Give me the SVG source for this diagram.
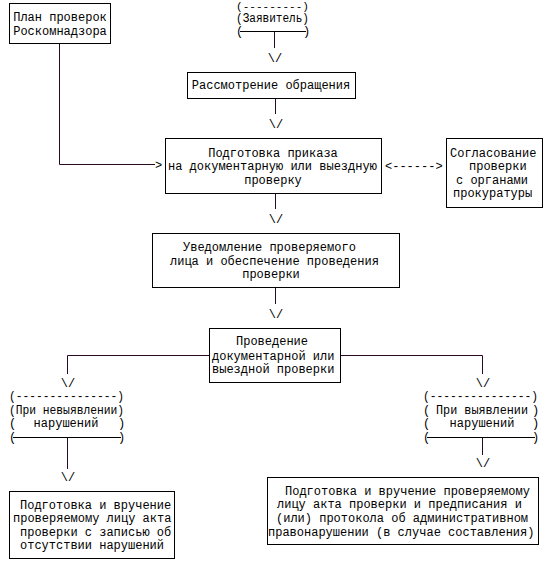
<svg xmlns="http://www.w3.org/2000/svg" width="545" height="562" viewBox="0 0 545 562">
<style>
text{font-family:"Liberation Mono","Courier New",monospace;font-size:12px;fill:#000}
.m{text-anchor:middle}
rect{fill:#fff;stroke:#000;stroke-width:1}
.c line,.c polyline{stroke:#2a0a22;stroke-width:1;fill:none}
</style>
<rect x="0" y="0" width="545" height="562" style="stroke:none"/>
<g class="c" id="connectors">
<polyline points="59.5,43 59.5,164.5 155,164.5"/>
<text x="155" y="168.5">&gt;</text>
<text x="385" y="169.5">&lt;------&gt;</text>
<line x1="274.5" y1="31" x2="274.5" y2="48"/>
<text class="m" x="275" y="62">\/</text>
<line x1="275.5" y1="98" x2="275.5" y2="114"/>
<text class="m" x="276" y="128">\/</text>
<line x1="275.5" y1="193" x2="275.5" y2="209"/>
<text class="m" x="276" y="223">\/</text>
<line x1="275.5" y1="287" x2="275.5" y2="304"/>
<text class="m" x="276" y="318">\/</text>
<polyline points="209,355.5 67.5,355.5 67.5,374"/>
<text class="m" x="68" y="387">\/</text>
<polyline points="340,355.5 482.5,355.5 482.5,374"/>
<text class="m" x="483" y="387">\/</text>
<line x1="67.5" y1="437" x2="67.5" y2="469"/>
<text class="m" x="68" y="481">\/</text>
<line x1="482.5" y1="437" x2="482.5" y2="455"/>
<text class="m" x="483" y="467">\/</text>
</g>
<g id="plan">
<rect x="9.5" y="3.5" width="101" height="40"/>
<text class="m" x="60" y="21">План проверок</text>
<text class="m" x="60" y="35">Роскомнадзора</text>
</g>
<g id="zayavitel">
<text x="236" y="9.5" style="font-size:10.5px" textLength="73" lengthAdjust="spacingAndGlyphs">(---------)</text>
<text x="236" y="22" textLength="73" lengthAdjust="spacingAndGlyphs">(Заявитель)</text>
<text x="236" y="35">(</text>
<line x1="240" y1="31.5" x2="306" y2="31.5" stroke="#000"/>
<text x="303" y="35">)</text>
</g>
<g id="rassmotrenie">
<rect x="187.5" y="72.5" width="168" height="26"/>
<text class="m" x="271" y="89">Рассмотрение обращения</text>
</g>
<g id="prikaz">
<rect x="165.5" y="138.5" width="216" height="55"/>
<text class="m" x="273" y="157">Подготовка приказа</text>
<text x="168" y="170">на документарную или выездную</text>
<text class="m" x="273" y="184">проверку</text>
</g>
<g id="soglasovanie">
<rect x="446.5" y="138.5" width="96" height="69"/>
<text x="450" y="157">Согласование</text>
<text x="469" y="170">проверки</text>
<text x="456" y="184">с органами</text>
<text x="453" y="197">прокуратуры</text>
</g>
<g id="uvedomlenie">
<rect x="152.5" y="233.5" width="247" height="54"/>
<text x="183" y="251">Уведомление проверяемого</text>
<text x="170" y="265">лица и обеспечение проведения</text>
<text class="m" x="271" y="278">проверки</text>
</g>
<g id="provedenie">
<rect x="209.5" y="328.5" width="131" height="54"/>
<text class="m" x="272" y="345">Проведение</text>
<text x="212" y="360">документарной или</text>
<text x="212" y="373">выездной проверки</text>
</g>
<g id="nevyyavlenie">
<text x="9" y="400" textLength="115" lengthAdjust="spacingAndGlyphs">(---------------)</text>
<text x="9" y="414" textLength="115" lengthAdjust="spacingAndGlyphs">(При невыявлении)</text>
<text x="9" y="427">(</text>
<text class="m" x="66" y="427">нарушений</text>
<text x="118" y="427">)</text>
<text x="9" y="441">(</text>
<line x1="13" y1="437.5" x2="121" y2="437.5" stroke="#000"/>
<text x="118" y="441">)</text>
</g>
<g id="vyyavlenie">
<text x="423" y="400" textLength="115" lengthAdjust="spacingAndGlyphs">(---------------)</text>
<text x="423" y="414">(</text>
<text x="436" y="414" textLength="92" lengthAdjust="spacingAndGlyphs">При выявлении</text>
<text x="532" y="414">)</text>
<text x="423" y="427">(</text>
<text class="m" x="482" y="427">нарушений</text>
<text x="532" y="427">)</text>
<text x="423" y="441">(</text>
<line x1="427" y1="437.5" x2="535" y2="437.5" stroke="#000"/>
<text x="532" y="441">)</text>
</g>
<g id="akt-bez">
<rect x="9.5" y="491.5" width="165" height="67"/>
<text x="20" y="509">Подготовка и вручение</text>
<text x="13" y="522">проверяемому лицу акта</text>
<text x="20" y="536">проверки с записью об</text>
<text x="20" y="549">отсутствии нарушений</text>
</g>
<g id="akt-s">
<rect x="267.5" y="477.5" width="271" height="67"/>
<text x="285" y="495">Подготовка и вручение проверяемому</text>
<text x="277" y="508">лицу акта проверки и предписания и</text>
<text x="276" y="522">(или) протокола об административном</text>
<text x="268" y="536">правонарушении (в случае составления)</text>
</g>
</svg>
